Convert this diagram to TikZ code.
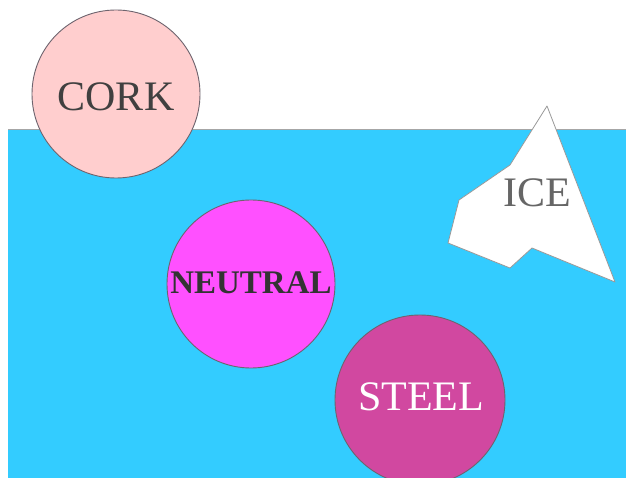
\documentclass[tikz,border=0pt]{standalone}
\usepackage{fontspec}
\setmainfont{Liberation Serif}
\definecolor{water}{RGB}{51,204,255}
\definecolor{corkfill}{RGB}{255,206,206}
\definecolor{neutralfill}{RGB}{255,80,255}
\definecolor{steelfill}{RGB}{209,72,160}
\definecolor{edgegray}{RGB}{110,100,110}
\tikzset{
  ball/.style={circle, draw=edgegray, line width=0.9pt, minimum size=168pt, inner sep=0pt},
  bigtext/.style={font=\fontsize{42}{50}\selectfont, inner sep=0pt},
}
\begin{document}
\begin{tikzpicture}[x=1pt,y=-1pt]
\clip (0,0) rectangle (626,478);
\fill[white] (0,0) rectangle (626,478);
% water
\fill[water] (8,130) rectangle (626,478);
\draw[gray!70, line width=1pt] (8,130) -- (626,130);
% cork
\node[ball, fill=corkfill] (cork) at (116,94) {};
\node[bigtext, text=black!75] (corklabel) at (116,97) {CORK};
% ice
\draw[fill=white, draw=gray!80, line width=0.8pt, line join=round]
  (547,106) -- (615,282) -- (532,248) -- (510,268) -- (448,243) -- (459,200) -- (510,165) -- cycle;
\node[bigtext, text=black!60] (ice) at (537,193) {ICE};
% neutral
\node[ball, fill=neutralfill] (neutral) at (251,284) {};
\node[text=black!80, font=\fontsize{33}{40}\bfseries\selectfont, inner sep=0pt] (neutrallabel) at (251,283) {NEUTRAL};
% steel
\node[ball, minimum size=170pt, fill=steelfill] (steel) at (420,400) {};
\node[bigtext, text=white] (steellabel) at (421,397) {STEEL};
\end{tikzpicture}
\end{document}
